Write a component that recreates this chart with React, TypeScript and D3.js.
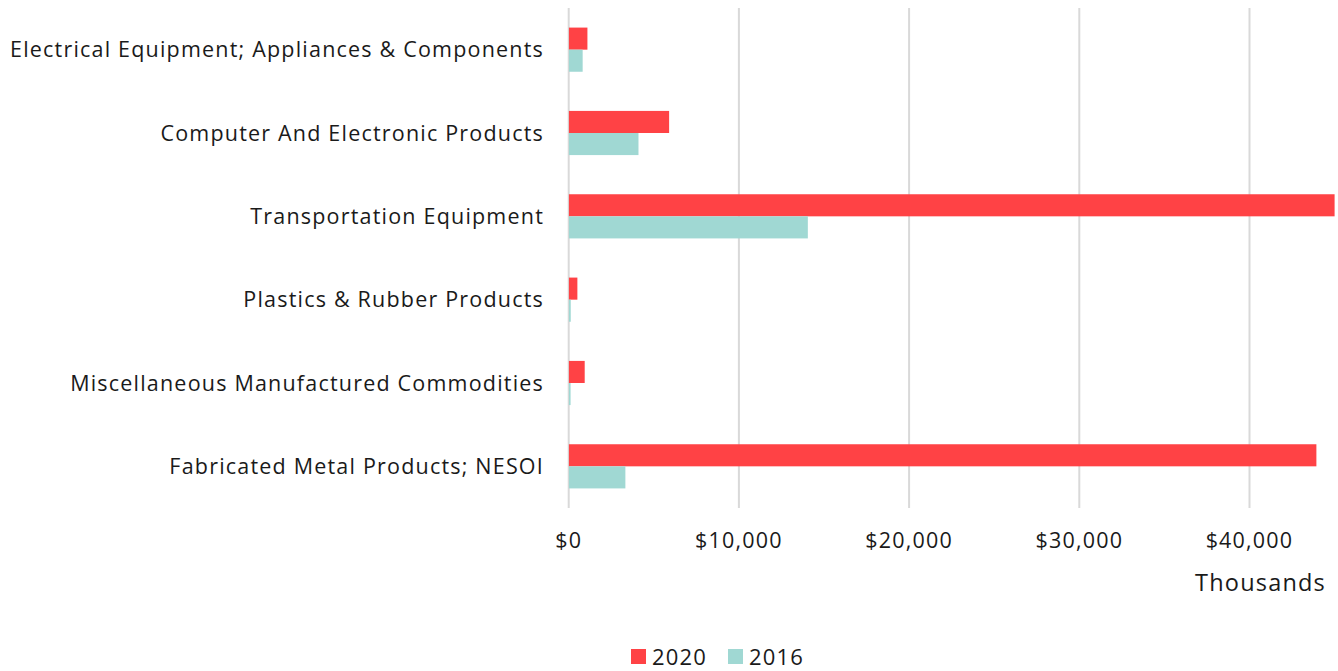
import React from 'react';
import * as d3 from 'd3';

const categories = [
  'Electrical Equipment; Appliances & Components',
  'Computer And Electronic Products',
  'Transportation Equipment',
  'Plastics & Rubber Products',
  'Miscellaneous Manufactured Commodities',
  'Fabricated Metal Products; NESOI',
];
const seriesNames = ['2020', '2016'];
const values2020 = [1100, 5900, 46500, 510, 940, 43930];
const values2016 = [820, 4100, 14050, 120, 110, 3330];
const xTicks = [0, 10000, 20000, 30000, 40000];

const colors: Record<string, string> = { '2020': '#FF4245', '2016': '#A0D8D3' };

const width = 1338;
const height = 671;
const left = 568.7;
const right = 1334.6;
const top = 8;
const bottom = 508;
const font = '"Open Sans", Lato, sans-serif';
const ink = '#1a1a1a';

const App = () => {
  const x = d3.scaleLinear().domain([0, 45000]).range([left, right]);
  const y = d3.scaleBand().domain(categories).range([top, bottom]).paddingInner(0.47).paddingOuter(0.235);
  const sub = d3.scaleBand().domain(seriesNames).range([0, y.bandwidth()]);
  const fmt = d3.format('$,');
  const rows = categories.map((c, i) => ({ c, '2020': values2020[i], '2016': values2016[i] }));

  return (
    <svg width={width} height={height} style={{ display: 'block', position: 'absolute', left: 0, top: 0 }}>
      <defs>
        <clipPath id="plot">
          <rect x={left} y={0} width={right - left} height={height} />
        </clipPath>
      </defs>
      {xTicks.map(t => (
        <line key={t} x1={x(t)} x2={x(t)} y1={top} y2={bottom} stroke="#D9D9D9" strokeWidth={2} />
      ))}
      <g clipPath="url(#plot)">
        {rows.map(r =>
          seriesNames.map(s => (
            <rect
              key={r.c + s}
              x={x(0)}
              y={(y(r.c) ?? 0) + (sub(s) ?? 0)}
              width={x((r as any)[s]) - x(0)}
              height={sub.bandwidth()}
              fill={colors[s]}
            />
          ))
        )}
      </g>
      <g fontFamily={font} fill={ink} letterSpacing={1.2}>
        {categories.map(c => (
          <text key={c} x={544} y={(y(c) ?? 0) + y.bandwidth() / 2} dy="0.35em" textAnchor="end" fontSize={21.5}>{c}</text>
        ))}
        {xTicks.map(t => (
          <text key={t} x={x(t)} y={540} dy="0.35em" textAnchor="middle" fontSize={21.5}>
            {fmt(t)}
          </text>
        ))}
        <text x={1326} y={583} dy="0.35em" textAnchor="end" fontSize={23.5}>Thousands</text>
        {seriesNames.map((s, i) => (
          <g key={s} transform={`translate(${631 + i * 97},649)`}>
            <rect x={0} y={0} width={15} height={15} fill={colors[s]} />
            <text x={21} y={8} dy="0.35em" fontSize={22}>{s}</text>
          </g>
        ))}
      </g>
    </svg>
  );
};

export default App;
